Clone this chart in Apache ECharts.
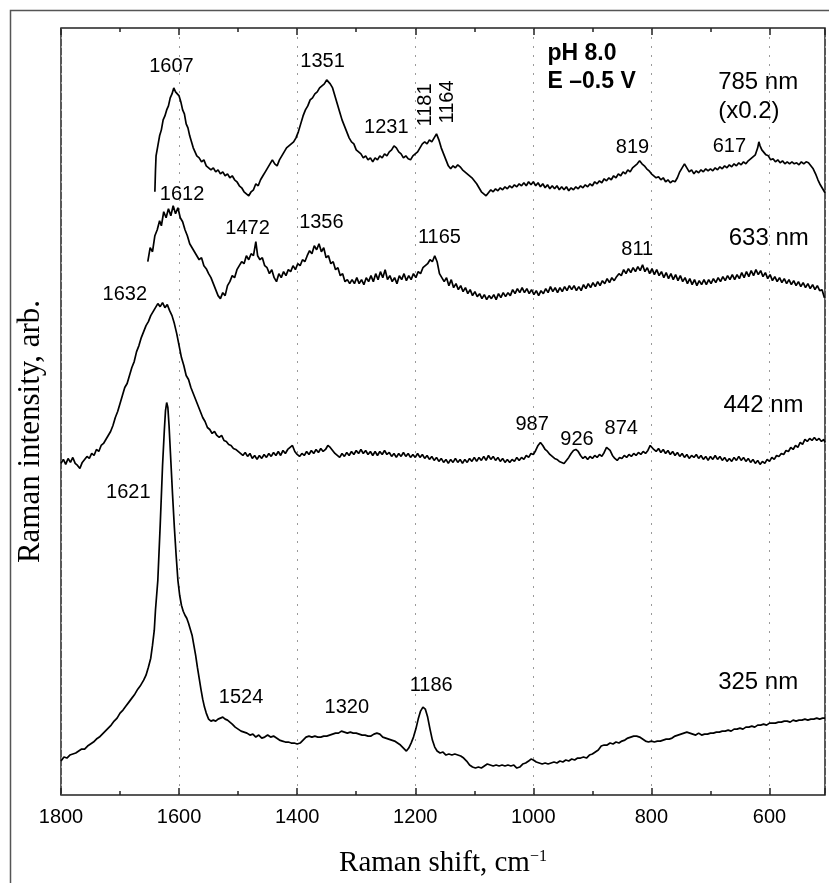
<!DOCTYPE html>
<html>
<head>
<meta charset="utf-8">
<script src="https://cdn.jsdelivr.net/npm/echarts@6/dist/echarts.min.js"></script>
<style>
html,body{margin:0;padding:0;background:#fff;}
#chart{width:829px;height:883px;}
</style>
</head>
<body>
<div id="chart"></div>
<script>
// x: Raman shift (cm-1), y: intensity (arb., offset traces)
const xTickLabels = ['1800','1600','1400','1200','1000','800','600'];

const s785 = [[1641,604],[1640,625],[1639,640],[1636,650],[1633,660],[1630,666],[1627,676],[1624,680],[1621,686],[1618,690],[1615,698],[1612,702],[1609,708],[1606,704],[1603,706],[1600,700],[1597,694],[1594,686],[1591,682],[1588,672],[1585,668],[1582,660],[1579,654],[1576,648],[1573,644],[1570,640],[1566,638],[1562,634],[1558,636],[1554,630],[1550,628],[1546,626],[1542,628],[1538,624],[1534,626],[1530,622],[1526,624],[1522,620],[1518,622],[1514,618],[1510,620],[1506,616],[1502,614],[1498,610],[1494,608],[1490,604],[1486,602],[1482,600],[1478,604],[1474,606],[1470,612],[1466,610],[1462,616],[1458,620],[1454,624],[1450,628],[1446,632],[1442,636],[1438,632],[1434,630],[1430,636],[1426,640],[1422,644],[1418,648],[1414,650],[1410,652],[1406,654],[1402,658],[1398,664],[1394,672],[1390,680],[1386,686],[1382,690],[1378,696],[1374,698],[1370,702],[1366,704],[1362,708],[1358,710],[1354,712],[1350,716],[1347,717],[1344,712],[1340,708],[1336,700],[1332,692],[1328,684],[1324,676],[1320,670],[1316,664],[1312,658],[1308,654],[1304,652],[1300,646],[1296,644],[1292,642],[1288,638],[1284,640],[1280,636],[1276,638],[1272,634],[1268,638],[1264,636],[1260,640],[1256,638],[1252,642],[1248,640],[1244,644],[1240,646],[1236,650],[1232,648],[1228,644],[1224,642],[1220,638],[1216,640],[1212,637],[1208,636],[1204,640],[1200,642],[1196,644],[1192,648],[1188,652],[1184,654],[1180,652],[1176,656],[1172,654],[1168,658],[1164,662],[1160,656],[1156,648],[1152,642],[1148,636],[1144,630],[1140,627],[1136,630],[1132,628],[1128,631],[1124,629],[1120,626],[1116,624],[1112,622],[1108,620],[1104,618],[1100,615],[1096,612],[1092,608],[1088,604],[1084,602],[1080,600],[1076,603],[1072,606],[1068,604],[1064,607],[1060,605],[1056,608],[1052,606],[1048,609],[1044,607],[1040,610],[1036,608],[1032,611],[1028,609],[1024,612],[1020,610],[1016,613],[1012,610],[1008,614],[1004,611],[1000,614],[996,610],[992,613],[988,609],[984,612],[980,608],[976,611],[972,607],[968,610],[964,607],[960,610],[956,606],[952,609],[948,606],[944,609],[940,605],[936,608],[932,606],[928,609],[924,607],[920,610],[916,608],[912,611],[908,609],[904,612],[900,610],[896,614],[892,612],[888,615],[884,613],[880,617],[876,615],[872,618],[868,616],[864,620],[860,618],[856,622],[852,620],[848,624],[844,622],[840,626],[836,624],[832,628],[828,630],[824,632],[820,635],[816,632],[812,630],[808,627],[804,625],[800,622],[796,620],[792,618],[788,619],[784,616],[780,618],[776,614],[772,616],[768,613],[764,615],[760,614],[756,618],[752,624],[748,628],[744,632],[740,628],[736,624],[732,626],[728,622],[724,625],[720,623],[716,626],[712,624],[708,627],[704,625],[700,627],[696,625],[692,628],[688,626],[684,629],[680,627],[676,630],[672,628],[668,631],[664,629],[660,632],[656,630],[652,633],[648,631],[644,634],[640,632],[636,635],[632,637],[628,639],[624,641],[620,648],[618,654],[616,650],[613,646],[610,644],[606,641],[602,640],[598,636],[594,637],[590,634],[586,636],[582,633],[578,635],[574,632],[570,634],[566,632],[562,634],[558,632],[554,633],[550,631],[546,634],[542,632],[538,634],[534,633],[530,630],[526,627],[522,622],[518,616],[514,611],[510,607],[506,603]];

const s633 = [[1653,534],[1649,548],[1645,544],[1641,560],[1637,566],[1633,575],[1630,570],[1626,584],[1622,578],[1618,587],[1614,580],[1610,590],[1606,582],[1602,588],[1598,578],[1594,574],[1590,566],[1586,560],[1582,552],[1578,548],[1574,544],[1570,540],[1566,536],[1562,538],[1558,530],[1554,527],[1550,522],[1546,518],[1542,512],[1538,506],[1534,500],[1530,497],[1526,503],[1522,500],[1518,510],[1514,514],[1510,520],[1506,518],[1502,526],[1498,530],[1494,534],[1490,532],[1486,540],[1482,536],[1478,542],[1474,540],[1470,554],[1467,540],[1463,536],[1459,538],[1455,530],[1451,528],[1447,522],[1443,526],[1439,518],[1435,514],[1431,522],[1427,518],[1423,524],[1419,520],[1415,526],[1411,524],[1407,530],[1403,526],[1399,532],[1395,530],[1391,536],[1387,534],[1383,540],[1379,545],[1375,542],[1371,550],[1367,546],[1363,552],[1359,544],[1355,548],[1351,538],[1347,540],[1343,532],[1339,534],[1335,526],[1331,528],[1327,520],[1323,522],[1319,514],[1315,516],[1311,512],[1307,516],[1303,512],[1299,518],[1295,512],[1291,516],[1287,511],[1283,518],[1279,514],[1275,520],[1271,514],[1267,522],[1263,516],[1259,524],[1255,518],[1251,526],[1247,516],[1243,520],[1239,514],[1235,518],[1231,512],[1227,520],[1223,516],[1219,522],[1215,515],[1211,520],[1207,516],[1203,522],[1199,518],[1195,524],[1191,522],[1187,528],[1183,530],[1179,532],[1175,536],[1171,534],[1167,540],[1163,534],[1159,522],[1155,518],[1151,514],[1147,518],[1143,510],[1139,516],[1135,508],[1131,512],[1127,506],[1123,510],[1119,504],[1115,508],[1111,502],[1107,506],[1103,500],[1099,504],[1095,499],[1091,502],[1087,497],[1083,501],[1079,496],[1075,500],[1071,497],[1067,501],[1063,496],[1059,502],[1055,498],[1051,503],[1047,499],[1043,503],[1039,500],[1035,506],[1031,502],[1027,507],[1023,503],[1019,508],[1015,503],[1011,507],[1007,502],[1003,506],[999,501],[995,505],[991,500],[987,505],[983,502],[979,507],[975,503],[971,509],[967,504],[963,508],[959,503],[955,508],[951,504],[947,509],[943,505],[939,510],[935,506],[931,510],[927,505],[923,509],[919,505],[915,511],[911,507],[907,512],[903,508],[899,513],[895,509],[891,514],[887,510],[883,515],[879,512],[875,517],[871,513],[867,518],[863,515],[859,519],[855,522],[851,520],[847,526],[843,522],[839,527],[835,523],[831,528],[827,524],[823,529],[819,525],[815,531],[811,524],[807,528],[803,522],[799,527],[795,521],[791,526],[787,520],[783,524],[779,518],[775,523],[771,517],[767,522],[763,516],[759,521],[755,515],[751,520],[747,514],[743,518],[739,512],[735,517],[731,511],[727,516],[723,510],[719,515],[715,511],[711,516],[707,511],[703,516],[699,512],[695,517],[691,513],[687,518],[683,514],[679,519],[675,515],[671,520],[667,516],[663,521],[659,516],[655,521],[651,517],[647,523],[643,518],[639,524],[635,519],[631,525],[627,520],[623,526],[619,521],[615,525],[611,519],[607,523],[603,517],[599,521],[595,515],[591,519],[587,514],[583,518],[579,513],[575,517],[571,512],[567,516],[563,511],[559,515],[555,510],[551,514],[547,509],[543,513],[539,508],[535,512],[531,507],[527,511],[523,506],[519,510],[515,505],[511,506],[507,498]];

const s442 = [[1800,332],[1796,336],[1792,331],[1788,337],[1784,333],[1780,338],[1776,332],[1772,330],[1768,327],[1764,333],[1760,336],[1756,339],[1752,337],[1748,342],[1744,340],[1740,346],[1736,344],[1732,350],[1728,352],[1724,356],[1720,360],[1716,364],[1712,370],[1708,378],[1704,384],[1700,392],[1696,400],[1692,408],[1688,412],[1684,420],[1680,428],[1676,434],[1672,444],[1668,450],[1664,458],[1660,464],[1656,470],[1652,474],[1648,480],[1644,484],[1640,488],[1636,492],[1632,489],[1628,493],[1624,488],[1620,491],[1616,485],[1612,480],[1608,472],[1604,462],[1600,450],[1596,438],[1592,430],[1588,420],[1584,416],[1580,408],[1576,402],[1572,396],[1568,390],[1564,384],[1560,378],[1556,374],[1552,368],[1548,366],[1544,362],[1540,364],[1536,360],[1532,358],[1528,360],[1524,355],[1520,354],[1516,351],[1512,350],[1508,347],[1504,346],[1500,344],[1496,342],[1492,340],[1488,343],[1484,339],[1480,342],[1476,337],[1472,340],[1468,336],[1464,340],[1460,337],[1456,341],[1452,338],[1448,342],[1444,339],[1440,343],[1436,340],[1432,344],[1428,340],[1424,345],[1420,342],[1416,346],[1412,348],[1408,350],[1404,344],[1400,341],[1396,339],[1392,342],[1388,340],[1384,344],[1380,341],[1376,345],[1372,342],[1368,346],[1364,343],[1360,347],[1356,344],[1352,346],[1348,350],[1344,348],[1340,345],[1336,342],[1332,340],[1328,338],[1324,342],[1320,339],[1316,343],[1312,340],[1308,344],[1304,341],[1300,345],[1296,342],[1292,346],[1288,342],[1284,345],[1280,341],[1276,344],[1272,340],[1268,344],[1264,340],[1260,344],[1256,341],[1252,345],[1248,341],[1244,343],[1240,339],[1236,342],[1232,338],[1228,342],[1224,339],[1220,343],[1216,339],[1212,342],[1208,338],[1204,341],[1200,338],[1196,342],[1192,338],[1188,341],[1184,337],[1180,340],[1176,336],[1172,339],[1168,335],[1164,338],[1160,334],[1156,337],[1152,333],[1148,336],[1144,332],[1140,336],[1136,333],[1132,337],[1128,333],[1124,336],[1120,332],[1116,336],[1112,333],[1108,337],[1104,334],[1100,338],[1096,334],[1092,338],[1088,335],[1084,339],[1080,335],[1076,340],[1072,336],[1068,339],[1064,335],[1060,338],[1056,334],[1052,337],[1048,333],[1044,336],[1040,333],[1036,336],[1032,334],[1028,338],[1024,335],[1020,338],[1016,336],[1012,340],[1008,338],[1004,342],[1000,341],[996,345],[992,350],[988,353],[984,350],[980,346],[976,344],[972,341],[968,339],[964,337],[960,336],[956,334],[952,333],[948,332],[944,335],[940,338],[936,342],[932,345],[928,346],[924,344],[920,340],[916,337],[912,339],[908,336],[904,339],[900,337],[896,340],[892,338],[888,341],[884,339],[880,343],[876,348],[873,350],[870,345],[866,340],[862,337],[858,335],[854,338],[850,337],[846,340],[842,338],[838,341],[834,339],[830,342],[826,340],[822,343],[818,341],[814,344],[810,342],[806,345],[802,350],[799,351],[796,346],[792,344],[788,347],[784,343],[780,346],[776,342],[772,345],[768,341],[764,344],[760,340],[756,343],[752,339],[748,342],[744,338],[740,341],[736,337],[732,340],[728,338],[724,341],[720,337],[716,340],[712,336],[708,339],[704,335],[700,339],[696,336],[692,340],[688,336],[684,339],[680,335],[676,338],[672,334],[668,337],[664,334],[660,338],[656,335],[652,339],[648,335],[644,338],[640,334],[636,337],[632,333],[628,336],[624,332],[620,335],[616,331],[612,334],[608,332],[604,336],[600,334],[596,338],[592,336],[588,340],[584,339],[580,342],[576,341],[572,345],[568,344],[564,348],[560,346],[556,350],[552,348],[548,353],[544,351],[540,356],[536,354],[532,357],[528,355],[524,358],[520,355],[516,357],[512,354],[508,356],[506,353]];

const s325 = [[1800,34],[1795,38],[1790,37],[1785,40],[1780,41],[1775,42],[1770,44],[1765,46],[1760,46],[1755,49],[1750,51],[1745,53],[1740,56],[1735,58],[1730,61],[1725,64],[1720,67],[1715,70],[1710,74],[1705,77],[1700,82],[1695,85],[1690,89],[1685,93],[1680,97],[1675,101],[1670,106],[1665,110],[1660,115],[1656,120],[1652,128],[1648,137],[1645,150],[1642,165],[1640,185],[1636,215],[1632,270],[1628,330],[1625,365],[1623,385],[1621,393],[1619,388],[1617,370],[1614,335],[1611,300],[1608,268],[1605,240],[1602,215],[1599,200],[1596,190],[1593,184],[1590,180],[1587,177],[1584,172],[1581,166],[1578,160],[1575,150],[1572,140],[1569,128],[1566,117],[1563,106],[1560,96],[1557,88],[1554,82],[1550,76],[1546,74],[1542,75],[1538,74],[1534,76],[1530,77],[1526,78],[1522,76],[1518,75],[1514,73],[1510,71],[1505,68],[1500,66],[1495,64],[1490,63],[1485,62],[1480,60],[1475,61],[1470,58],[1465,60],[1460,57],[1455,58],[1450,60],[1445,58],[1440,59],[1435,57],[1430,55],[1425,54],[1420,53],[1415,53],[1410,52],[1405,52],[1400,51],[1395,52],[1390,55],[1385,58],[1380,59],[1375,58],[1370,59],[1365,58],[1360,58],[1355,59],[1350,59],[1345,60],[1340,61],[1335,62],[1330,62],[1325,64],[1320,63],[1315,62],[1310,63],[1305,62],[1300,62],[1295,61],[1290,60],[1285,60],[1280,59],[1275,59],[1270,61],[1265,62],[1260,61],[1255,58],[1250,57],[1245,56],[1240,55],[1235,54],[1230,52],[1225,50],[1220,47],[1215,44],[1211,47],[1207,52],[1203,58],[1199,66],[1195,76],[1191,84],[1187,88],[1183,86],[1179,78],[1175,66],[1171,55],[1167,48],[1163,44],[1158,42],[1153,43],[1148,40],[1143,41],[1138,40],[1133,41],[1128,40],[1123,39],[1118,37],[1113,34],[1108,30],[1103,28],[1098,27],[1093,28],[1088,27],[1083,29],[1078,31],[1073,30],[1068,29],[1063,30],[1058,29],[1053,30],[1048,29],[1043,30],[1038,29],[1033,30],[1028,27],[1023,28],[1018,31],[1013,32],[1008,34],[1004,36],[1000,35],[995,33],[990,32],[985,31],[980,32],[975,31],[970,32],[965,33],[960,32],[955,34],[950,33],[945,35],[940,34],[935,36],[930,35],[925,37],[920,37],[915,38],[910,37],[905,40],[900,41],[895,43],[890,45],[885,49],[880,50],[875,50],[870,52],[865,51],[860,53],[855,52],[850,54],[845,55],[840,57],[835,58],[830,59],[825,59],[820,58],[815,56],[810,54],[805,53],[800,54],[795,53],[790,54],[785,54],[780,55],[775,56],[770,56],[765,57],[760,59],[755,60],[750,61],[745,62],[740,63],[735,62],[730,61],[725,60],[720,62],[715,60],[710,61],[705,61],[700,62],[695,62],[690,63],[685,63],[680,64],[675,64],[670,65],[665,64],[660,66],[655,66],[650,67],[645,66],[640,68],[635,68],[630,69],[625,68],[620,70],[615,70],[610,71],[605,70],[600,72],[595,72],[590,72],[585,73],[580,73],[575,74],[570,74],[565,73],[560,75],[555,74],[550,75],[545,75],[540,76],[535,75],[530,76],[525,76],[520,77],[515,76],[510,77],[506,77]];

// annotation texts with anchor [wavenumber, intensity]
const peakLabels = [['1607',1613,729],['1351',1357,734],['1231',1249,668],['819',832,648],['617',668,649],['1612',1595,601],['1472',1484,567],['1356',1359,573],['1165',1159,558],['811',824,546],['1632',1692,501],['987',1002,371],['926',926,356],['874',851,367],['1621',1686,303],['1524',1495,98],['1320',1316,88],['1186',1173,110]];
const rotatedLabels = [['1181',1183,691],['1164',1146,694]];
const traceLabels = [['785 nm',687,714],['(x0.2)',687,685],['633 nm',669,557],['442 nm',678,390],['325 nm',687,113]];
const conditionLabels = [['pH 8.0',976,742],['E \u20130.5 V',976,714]];

const X_MIN = 506, X_MAX = 1800;
const SANS = "'Liberation Sans', Arial, sans-serif";
const SERIF = "'Liberation Serif', 'Times New Roman', serif";
const INK = '#000';

function toPts(arr){ return arr.map(a => ({name: a[0], value: [a[1], a[2]]})); }

function xAx(position, splitNumber, tickLen, withLabels){
  return {
    type: 'value', position: position, inverse: true, min: X_MIN, max: X_MAX,
    splitNumber: splitNumber,
    axisLine: {show: false},
    axisTick: {show: true, inside: true, length: tickLen, lineStyle: {color: '#222', width: 1.5}},
    axisLabel: {
      show: withLabels, margin: 12, fontFamily: SANS, fontSize: 20, color: INK,
      formatter: v => (xTickLabels.indexOf(String(v)) >= 0 ? String(v) : '')
    },
    splitLine: {show: false}
  };
}

const bottomMain = xAx('bottom', 6, 7, true);
bottomMain.splitLine = {show: true, lineStyle: {color: '#9a9a9a', width: 1, type: [2, 7]}};
bottomMain.name = 'Raman shift, cm{sup|\u22121}';
bottomMain.nameLocation = 'middle';
bottomMain.nameGap = 54;
bottomMain.nameTextStyle = {fontFamily: SERIF, fontSize: 29, color: INK,
  rich: {sup: {fontFamily: SERIF, fontSize: 16, color: INK, verticalAlign: 'top'}}};

const lineSeries = (data) => ({
  type: 'line', data: data, showSymbol: false, symbol: 'none', silent: true,
  lineStyle: {color: '#000', width: 1.7}, xAxisIndex: 0, yAxisIndex: 0, z: 3
});

const textSeries = (arr, label) => ({
  type: 'scatter', data: toPts(arr), symbolSize: 0, silent: true, xAxisIndex: 0, yAxisIndex: 0, z: 5,
  itemStyle: {opacity: 1},
  label: Object.assign({show: true, formatter: '{b}', color: INK, opacity: 1, fontFamily: SANS}, label)
});

const chart = echarts.init(document.getElementById('chart'), null, {renderer: 'canvas'});
chart.setOption({
  animation: false,
  backgroundColor: '#fff',
  grid: {left: 61, right: 4, top: 28, bottom: 87, show: true, borderColor: '#222', borderWidth: 1.5, backgroundColor: 'transparent'},
  xAxis: [bottomMain, xAx('bottom', 12, 4, false), xAx('top', 6, 7, false), xAx('top', 12, 4, false)],
  yAxis: {
    type: 'value', min: 0, max: 768,
    axisLine: {show: false}, axisTick: {show: false}, axisLabel: {show: false}, splitLine: {show: false},
    name: 'Raman intensity, arb.', nameLocation: 'middle', nameGap: 15,
    nameTextStyle: {fontFamily: SERIF, fontSize: 31, color: INK, padding: [0, 40, 0, 0]}
  },
  graphic: [{type: 'rect', shape: {x: 10.5, y: 10.5, width: 840, height: 900}, style: {fill: 'none', stroke: '#555', lineWidth: 1.5}, silent: true}],
  series: [
    lineSeries(s785), lineSeries(s633), lineSeries(s442), lineSeries(s325),
    textSeries(peakLabels, {position: 'inside', fontSize: 20}),
    textSeries(rotatedLabels, {position: 'inside', fontSize: 20, rotate: 90}),
    textSeries(traceLabels, {position: [0, 0], align: 'left', verticalAlign: 'middle', fontSize: 24}),
    textSeries(conditionLabels, {position: [0, 0], align: 'left', verticalAlign: 'middle', fontSize: 23, fontWeight: 'bold'})
  ]
});
</script>
</body>
</html>
